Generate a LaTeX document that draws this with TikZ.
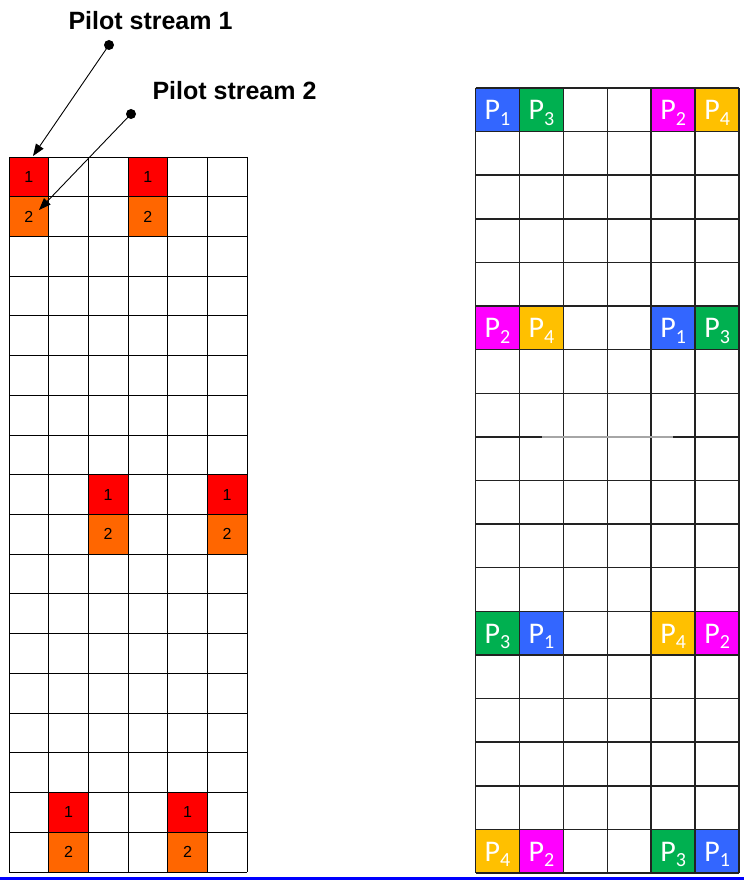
\documentclass[tikz,border=0pt]{standalone}
\usepackage{fontspec}
\setmainfont{Liberation Sans}
\newfontfamily\calfont{Carlito}
\usetikzlibrary{arrows.meta}
\definecolor{pred}{HTML}{FF0000}
\definecolor{porange}{HTML}{FF6600}
\definecolor{pblue}{HTML}{3366FF}
\definecolor{pgreen}{HTML}{00B050}
\definecolor{pmag}{HTML}{FF00FF}
\definecolor{pgold}{HTML}{FFC000}
\definecolor{lineblue}{HTML}{0000FF}
\definecolor{gridgray}{HTML}{222222}
\newcommand\psub[2]{P\raisebox{-5.5pt}{\fontsize{20}{20}\selectfont #2}}
\begin{document}
\begin{tikzpicture}[x=1pt,y=-1pt,
  lgrid/.style={black,line width=0.9pt},
  rgrid/.style={gridgray,line width=1.5pt},
  lcell/.style={draw=black,line width=0.9pt,minimum width=39.667pt,minimum height=39.72pt,inner sep=0pt,
    font=\fontsize{16}{16}\selectfont},
  rcell/.style={minimum width=43.92pt,minimum height=43.61pt,inner sep=0pt,text=white,
    font=\calfont\fontsize{30}{30}\selectfont,text height=20pt,text depth=0pt},
  title/.style={font=\bfseries\fontsize{25}{25}\selectfont,anchor=base,inner sep=0pt},
  dotnode/.style={circle,fill=black,inner sep=0pt,minimum size=10pt},
  arr/.style={black,line width=0.9pt,-{Triangle[length=12pt,width=9pt]}}]
\useasboundingbox (0,0) rectangle (744,882);
% ---------- left grid ----------
\foreach \i in {0,...,6} \draw[lgrid] ({9+\i*39.667},157) -- ({9+\i*39.667},872);
\foreach \j in {0,...,18} \draw[lgrid] (9,{157+\j*39.72}) -- (247,{157+\j*39.72});
\foreach \c/\r/\col/\t in {0/0/pred/1,3/0/pred/1,0/1/porange/2,3/1/porange/2,
  2/8/pred/1,5/8/pred/1,2/9/porange/2,5/9/porange/2,
  1/16/pred/1,4/16/pred/1,1/17/porange/2,4/17/porange/2}
  \node[lcell,fill=\col] (L\c-\r) at ({9+(\c+0.5)*39.667},{157+(\r+0.5)*39.72}) {\t};
% ---------- right grid ----------
\foreach \c/\r/\col/\t in {0/0/pblue/1,1/0/pgreen/3,4/0/pmag/2,5/0/pgold/4,
  0/5/pmag/2,1/5/pgold/4,4/5/pblue/1,5/5/pgreen/3,
  0/12/pgreen/3,1/12/pblue/1,4/12/pgold/4,5/12/pmag/2,
  0/17/pgold/4,1/17/pmag/2,4/17/pgreen/3,5/17/pblue/1}
  \node[rcell,fill=\col] (R\c-\r) at ({475.5+(\c+0.5)*43.92},{88+(\r+0.5)*43.61}) {\psub{}{\t}};
\foreach \i in {0,...,6} \draw[rgrid] ({475.5+\i*43.92},88) -- ({475.5+\i*43.92},873);
\foreach \j in {0,...,18} \draw[rgrid] (475.5,{88+\j*43.61}) -- (739,{88+\j*43.61});
\draw[gray!70,line width=1.6pt] (542,{88+8*43.61}) -- (673,{88+8*43.61});
% ---------- labels and arrows ----------
\node[title] (s1) at (150.5,29.3) {Pilot stream 1};
\node[title] (s2) at (234.5,99.3) {Pilot stream 2};
\node[dotnode] (d1) at (109,45) {};
\node[dotnode] (d2) at (131,114) {};
\coordinate (t1) at (33,156);
\coordinate (t2) at (39,210);
\draw[arr] (d1.center) -- (t1);
\draw[arr] (d2.center) -- (t2);
% ---------- bottom rule ----------
\draw[lineblue,line width=2.6pt] (0,878.6) -- (744,878.6);
\end{tikzpicture}
\end{document}
